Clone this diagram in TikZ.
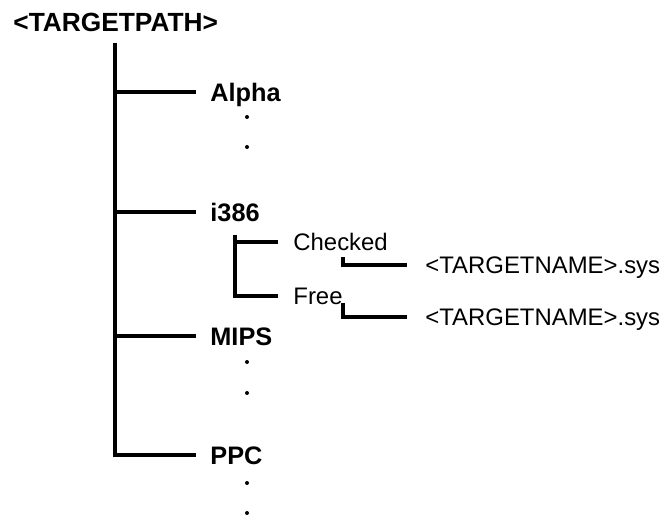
\documentclass[tikz,border=0pt]{standalone}
\usepackage{fontspec}
\setmainfont{Liberation Sans}
\usetikzlibrary{positioning}

\begin{document}
\begin{tikzpicture}[
  x=0.5bp, y=-0.5bp,
  rootlabel/.style={anchor=west, inner sep=0pt,
                    font=\fontsize{13.2}{15}\selectfont\bfseries,
                    text height=9.4pt, text depth=0pt},
  archlabel/.style={anchor=west, inner xsep=7bp, inner ysep=0pt,
                    font=\fontsize{12.7}{15}\selectfont\bfseries,
                    text height=9.1pt, text depth=0pt},
  buildlabel/.style={anchor=west, inner xsep=7.5bp, inner ysep=0pt,
                     font=\fontsize{12}{14}\selectfont,
                     text height=8.6pt, text depth=0pt},
  filelabel/.style={buildlabel, inner xsep=9bp},
  trunk/.style={line width=2.1bp},
  twig/.style={line width=2bp},
  leaf/.style={line width=1.75bp}]

\useasboundingbox (0,0) rectangle (666,517);

\node[rootlabel] (root) at (13,22.5) {<TARGETPATH>};

\node[archlabel] (alpha) at (196,92)  {Alpha};
\node[archlabel] (i386)  at (196,212) {i386};
\node[archlabel] (mips)  at (196,336) {MIPS};
\node[archlabel] (ppc)   at (196,455) {PPC};

\node[buildlabel] (checked) at (278,242) {Checked};
\node[buildlabel] (free)    at (278,296) {Free};
\node[filelabel] (chksys)  at (407,265) {<TARGETNAME>.sys};
\node[filelabel] (freesys) at (407,317) {<TARGETNAME>.sys};

\coordinate (trunktop) at (115,43);
\coordinate (twigtop)  at (235,235);
\coordinate (chkleaf)  at (343,257);
\coordinate (freeleaf) at (343,303);

% main tree
\draw[trunk] (trunktop) |- (ppc.west);
\draw[trunk] (trunktop |- alpha.west) -- (alpha.west);
\draw[trunk] (trunktop |- i386.west) -- (i386.west);
\draw[trunk] (trunktop |- mips.west) -- (mips.west);

% i386 builds
\draw[twig] (twigtop) |- (free.west);
\draw[twig] (twigtop |- checked.west) -- (checked.west);
\draw[leaf] (chkleaf) |- (chksys.west);
\draw[leaf] (freeleaf) |- (freesys.west);

% elided entries
\foreach \y in {117,147,362,393,483,513}
  \fill (247,\y) circle (2);
\end{tikzpicture}
\end{document}
